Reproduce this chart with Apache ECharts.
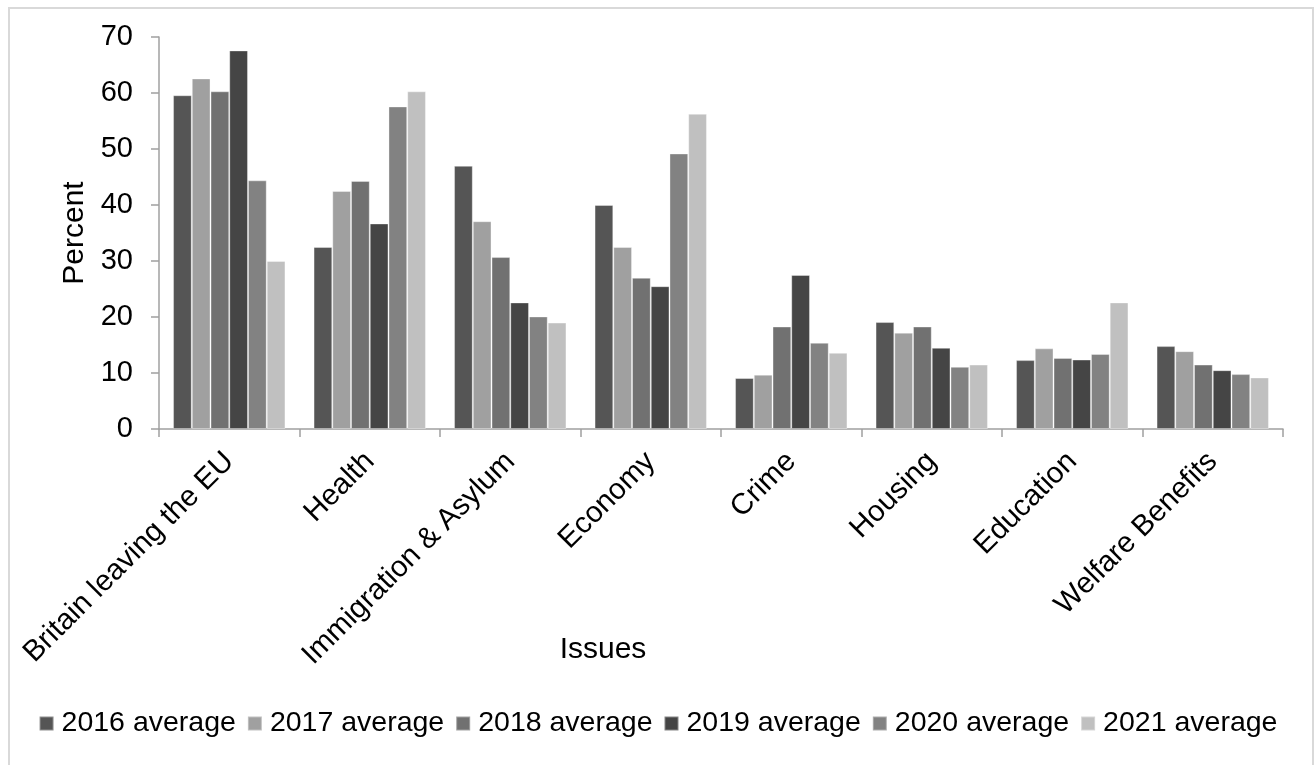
<!DOCTYPE html>
<html>
<head>
<meta charset="utf-8">
<script src="https://cdn.jsdelivr.net/npm/echarts@6/dist/echarts.min.js"></script>
<style>
  html, body { margin: 0; padding: 0; background: #fff; }
  #chart { width: 1316px; height: 765px; }
</style>
</head>
<body>
<div id="chart"></div>
<script>
// Issues named as important, yearly averages (percent)
const issues = ['Britain leaving the EU', 'Health', 'Immigration & Asylum', 'Economy',
                'Crime', 'Housing', 'Education', 'Welfare Benefits'];
const seriesNames = ['2016 average', '2017 average', '2018 average',
                     '2019 average', '2020 average', '2021 average'];
const avg2016 = [59.6, 32.5, 47.0, 40.0, 9.1, 19.1, 12.3, 14.8];
const avg2017 = [62.6, 42.5, 37.1, 32.5, 9.7, 17.2, 14.4, 13.9];
const avg2018 = [60.3, 44.3, 30.7, 27.0, 18.3, 18.3, 12.7, 11.5];
const avg2019 = [67.6, 36.7, 22.6, 25.5, 27.5, 14.5, 12.4, 10.5];
const avg2020 = [44.4, 57.6, 20.1, 49.2, 15.4, 11.1, 13.4, 9.8];
const avg2021 = [30.0, 60.3, 19.0, 56.3, 13.6, 11.5, 22.6, 9.2];
const yTicks = { min: 0, max: 70, step: 10 };

const seriesData = [avg2016, avg2017, avg2018, avg2019, avg2020, avg2021];
const fills = ['#555555', '#a0a0a0', '#717171', '#454545', '#828282', '#c0c0c0'];
const FONT = '"Liberation Sans", Arial, sans-serif';

const chart = echarts.init(document.getElementById('chart'), null, { renderer: 'canvas' });

chart.setOption({
  backgroundColor: '#ffffff',
  animation: false,
  textStyle: { fontFamily: FONT },
  grid: { left: 159, right: 33, top: 37, bottom: 336, containLabel: false },
  legend: {
    data: seriesNames,
    bottom: 22,
    left: 'center',
    icon: 'rect',
    itemWidth: 14,
    itemHeight: 14,
    itemGap: 11,
    textStyle: { fontSize: 28.5, color: '#000', fontFamily: FONT, padding: [0, 0, 0, 3] }
  },
  xAxis: {
    type: 'category',
    data: issues,
    boundaryGap: true,
    axisLine: { lineStyle: { color: '#a0a0a0', width: 1.5 } },
    axisTick: { show: true, length: 8, lineStyle: { color: '#a0a0a0', width: 1.5 } },
    axisLabel: { rotate: 45, margin: 28, fontSize: 29.5, color: '#000', fontFamily: FONT, interval: 0 },
    splitLine: { show: false }
  },
  yAxis: {
    type: 'value',
    min: yTicks.min,
    max: yTicks.max,
    interval: yTicks.step,
    name: 'Percent',
    nameLocation: 'middle',
    nameGap: 69,
    nameTextStyle: { fontSize: 30, color: '#000', fontFamily: FONT },
    axisLine: { show: true, lineStyle: { color: '#a0a0a0', width: 1.5 } },
    axisTick: { show: true, length: 8, lineStyle: { color: '#a0a0a0', width: 1.5 } },
    axisLabel: { margin: 26, fontSize: 29, color: '#000', fontFamily: FONT },
    splitLine: { show: false }
  },
  series: seriesNames.map((name, i) => ({
    name: name,
    type: 'bar',
    data: seriesData[i],
    barGap: '0%',
    barCategoryGap: '20%',
    itemStyle: { color: fills[i], borderColor: 'rgba(255,255,255,0.35)', borderWidth: 1 }
  })),
  graphic: [
    {
      type: 'rect',
      shape: { x: 9, y: 8, width: 1304, height: 800 },
      style: { fill: 'none', stroke: '#d9d9d9', lineWidth: 2 },
      silent: true
    },
    {
      type: 'text',
      x: 603,
      y: 650,
      style: { text: 'Issues', fontSize: 30, fontFamily: FONT, fill: '#000',
               textAlign: 'center', textVerticalAlign: 'middle' }
    }
  ]
});
</script>
</body>
</html>
